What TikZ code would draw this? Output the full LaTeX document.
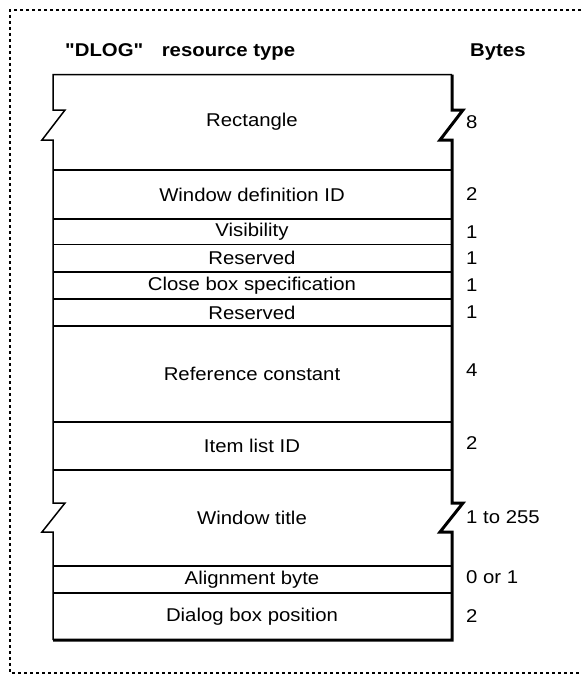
\documentclass[tikz,border=0pt]{standalone}
\usepackage{fontspec}
\setmainfont{Liberation Sans}[FakeStretch=1.1]
\newfontfamily\headfont{Liberation Sans}[FakeStretch=1.1]
\begin{document}
\begin{tikzpicture}[x=1pt,y=-1pt,
  field/.style={font=\fontsize{18.5}{20}\selectfont, inner sep=0pt},
  bytes/.style={font=\fontsize{18.5}{20}\selectfont, anchor=west, inner sep=0pt},
  head/.style={font=\headfont\bfseries\fontsize{18.5}{20}\selectfont, anchor=west, inner sep=0pt},
  rowline/.style={line width=1.3pt}]
\useasboundingbox (0,0) rectangle (581,677);

% frame
\draw[line width=1.3pt, dash pattern=on 3pt off 3pt] (581,10) -- (10,10) -- (10,673) -- (581,673);

% headings
\node[head] (restype) at (65,52) {"DLOG"\quad resource type};
\node[head] (byteshead) at (470,52) {Bytes};

% outline of the resource
\draw[line width=1.5pt] (452,74.5) -- (53,74.5) -- (53,110) -- (65,110) -- (42,140) -- (53,140)
  -- (53,503) -- (65,503) -- (42,532) -- (53,532) -- (53,640);
\draw[line width=3pt] (53,640) -- (452,640) -- (452,532) -- (440,532) -- (463,503) -- (452,503)
  -- (452,140) -- (440,140) -- (463,110) -- (452,110) -- (452,74.5);

% fields
\draw[rowline] (53,170) -- (452,170);
\draw[rowline] (53,219) -- (452,219);
\draw[rowline] (53,244.5) -- (452,244.5);
\draw[rowline] (53,272) -- (452,272);
\draw[rowline] (53,299) -- (452,299);
\draw[rowline] (53,326) -- (452,326);
\draw[rowline] (53,422) -- (452,422);
\draw[rowline] (53,470) -- (452,470);
\draw[rowline] (53,566) -- (452,566);
\draw[rowline] (53,593) -- (452,593);

\node[field] (rect) at (252,122) {Rectangle};
\node[field] (wdefid) at (252,194.5) {Window definition ID};
\node[field] (visible) at (252,232) {Visibility};
\node[field] (resrvA) at (252,258) {Reserved};
\node[field] (closebox) at (252,285.5) {Close box specification};
\node[field] (resrvB) at (252,312.5) {Reserved};
\node[field] (refcon) at (252,374) {Reference constant};
\node[field] (itemlist) at (252,446) {Item list ID};
\node[field] (wtitle) at (252,518) {Window title};
\node[field] (align) at (252,579.5) {Alignment byte};
\node[field] (dlogpos) at (252,616.5) {Dialog box position};

% sizes
\node[bytes] (rect-b) at (466,122) {8};
\node[bytes] (wdefid-b) at (466,194.5) {2};
\node[bytes] (visible-b) at (466,232) {1};
\node[bytes] (resrvA-b) at (466,258) {1};
\node[bytes] (closebox-b) at (466,285.5) {1};
\node[bytes] (resrvB-b) at (466,312.5) {1};
\node[bytes] (refcon-b) at (466,370) {4};
\node[bytes] (itemlist-b) at (466,443) {2};
\node[bytes] (wtitle-b) at (466,517) {1 to 255};
\node[bytes] (align-b) at (466,577) {0 or 1};
\node[bytes] (dlogpos-b) at (466,616) {2};
\end{tikzpicture}
\end{document}
